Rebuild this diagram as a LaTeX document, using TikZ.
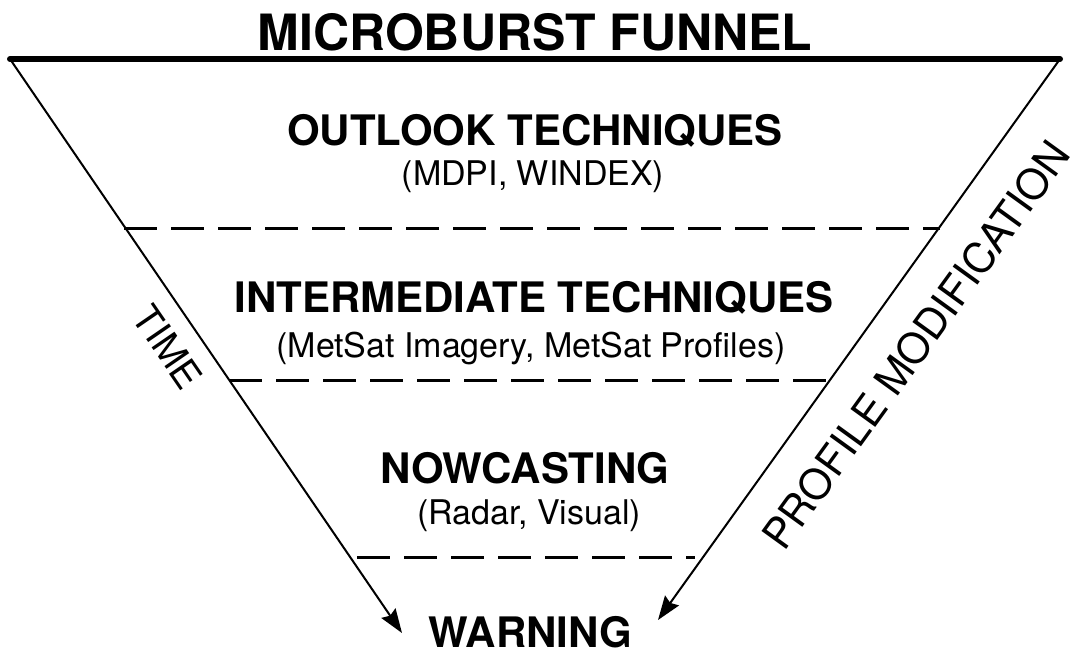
\documentclass[tikz,border=0pt]{standalone}
\usepackage{fontspec}
\setmainfont{TeX Gyre Heros}
\usetikzlibrary{arrows.meta}
\begin{document}
\begin{tikzpicture}[x=1pt,y=-1pt,line cap=round,line join=round,
    >={Stealth[length=24pt,width=17pt,inset=3pt]},
    stage/.style={anchor=base,font=\fontsize{42}{50}\selectfont\bfseries},
    stagesub/.style={anchor=base,font=\fontsize{34}{40}\selectfont},
    funnelside/.style={->,line width=2pt},
    divider/.style={line width=3pt,line cap=butt,dash pattern=on 33pt off 14pt}]
    \useasboundingbox (0,0) rectangle (1070,649);
    \coordinate (tl) at (10,59); \coordinate (tr) at (1060,59); % top of the funnel
    \coordinate (tipl) at (402,633); \coordinate (tipr) at (658,620);
    \node[anchor=base,font=\fontsize{50}{60}\selectfont\bfseries] (title) at (535,50) {MICROBURST FUNNEL};
    \node[stage] (outlook) at (535,145) {OUTLOOK TECHNIQUES};
    \node[stagesub] (outlooksub) at (533,185) {(MDPI, WINDEX)};
    \node[stage] (inter) at (534,312) {INTERMEDIATE TECHNIQUES};
    \node[stagesub] (intersub) at (531,357) {(MetSat Imagery, MetSat Profiles)};
    \node[stage] (now) at (525,483) {NOWCASTING};
    \node[stagesub] (nowsub) at (529,524) {(Radar, Visual)};
    \node[stage] (warn) at (530,647) {WARNING};
    \node[rotate=-55.5,font=\fontsize{38}{44}\selectfont] (time) at (168,347) {TIME};
    \node[rotate=54.1,font=\fontsize{42}{50}\selectfont] (profile) at (916,345) {PROFILE MODIFICATION};
    \draw[line width=6pt] (tl) -- (tr);
    \draw[funnelside] (tl) -- (tipl);
    \draw[funnelside] (tr) -- (tipr);
    \draw[divider] (124,228) -- (940,228) (229,380) -- (831,380) (357,557) -- (695,557);
\end{tikzpicture}
\end{document}
